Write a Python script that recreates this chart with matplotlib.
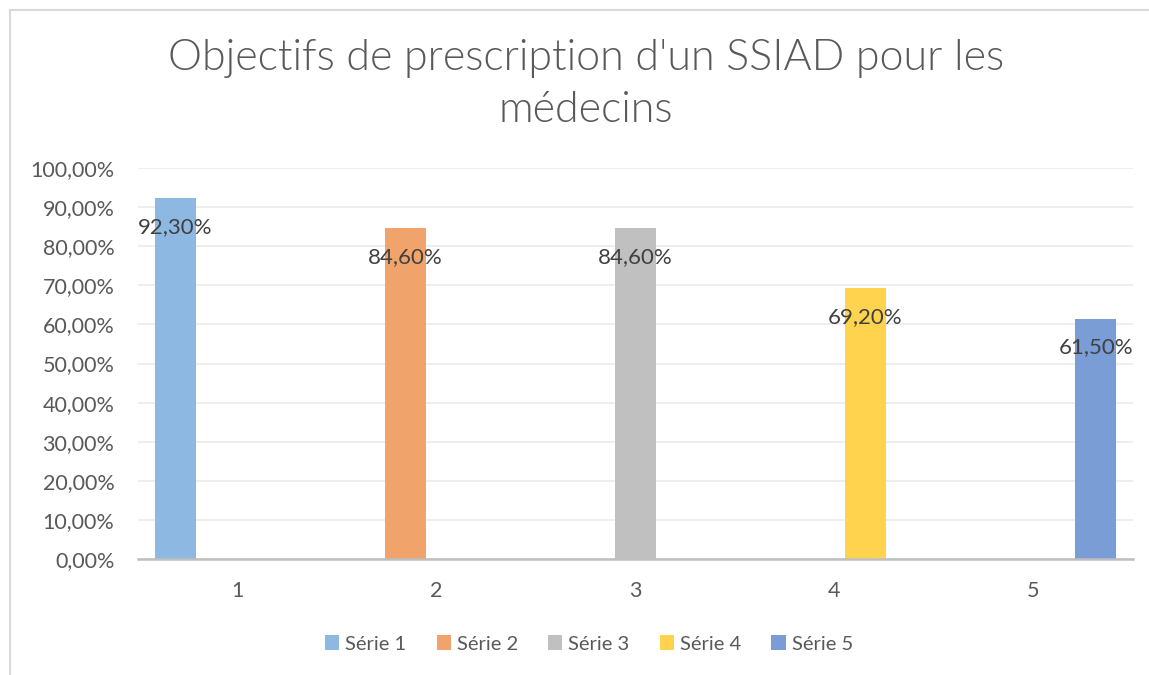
import matplotlib.pyplot as plt
from matplotlib.lines import Line2D
from matplotlib.ticker import FuncFormatter
import numpy as np

categories = ['1', '2', '3', '4', '5']
series_names = ['Série 1', 'Série 2', 'Série 3', 'Série 4', 'Série 5']
# each series only has a value in its own category
series_values = [
    [0.923, 0, 0, 0, 0],
    [0, 0.846, 0, 0, 0],
    [0, 0, 0.846, 0, 0],
    [0, 0, 0, 0.692, 0],
    [0, 0, 0, 0, 0.615],
]
labels = ['92,30%', '84,60%', '84,60%', '69,20%', '61,50%']
colors = ['#8DB8E2', '#F0A46C', '#C0C0C0', '#FFD34D', '#7B9DD5']

plt.rcParams['font.family'] = ['Lato', 'DejaVu Sans']

fig = plt.figure(figsize=(11.49, 6.75), dpi=100)
ax = fig.add_axes([138 / 1149, 116 / 675, (1133 - 138) / 1149, (559 - 168) / 675])

x = np.arange(len(categories))
width = 0.206
step = 0.156
for i, (name, vals, c) in enumerate(zip(series_names, series_values, colors)):
    ax.bar(x + (i - 2) * step, vals, width=width, color=c, label=name, zorder=2)
    ax.annotate(labels[i], (x[i] + (i - 2) * step, vals[i]),
                xytext=(0, -29), textcoords='offset pixels',
                ha='center', va='center', fontsize=16, color='#404040', zorder=3)

ax.set_xlim(-0.5, 4.5)
ax.set_ylim(0, 1)
ax.set_yticks(np.arange(0, 1.01, 0.1))
ax.yaxis.set_major_formatter(FuncFormatter(lambda v, p: f'{v * 100:.2f}%'.replace('.', ',')))
ax.set_xticks(x)
ax.set_xticklabels(categories)
ax.tick_params(axis='both', length=0, labelsize=15.5, labelcolor='#595959')
ax.tick_params(axis='x', pad=16)
ax.tick_params(axis='y', pad=17)
ax.grid(axis='y', color='#EBEBEB', linewidth=1.2, zorder=0)
for s in ['top', 'right', 'left']:
    ax.spines[s].set_visible(False)
ax.spines['bottom'].set_color('#BFBFBF')
ax.spines['bottom'].set_linewidth(1.8)

title_kw = dict(ha='center', va='center', fontsize=31, fontweight=300, color='#595959')
fig.text(586 / 1149, 1 - 58 / 675, "Objectifs de prescription d'un SSIAD pour les", **title_kw)
fig.text(586 / 1149, 1 - 110 / 675, 'médecins', **title_kw)

fig.legend(loc='center', bbox_to_anchor=(589 / 1149, 1 - 644 / 675), ncol=5,
           frameon=False, fontsize=14.5, handlelength=0.7, handleheight=0.7,
           handletextpad=0.3, columnspacing=1.5, labelcolor='#595959')

# chart border
fig.add_artist(Line2D([10 / 1149, 10 / 1149], [0, 1 - 10 / 675], color='#D9D9D9', lw=1.5))
fig.add_artist(Line2D([10 / 1149, 1], [1 - 10 / 675, 1 - 10 / 675], color='#D9D9D9', lw=1.5))

plt.savefig('out.png', dpi=100)
